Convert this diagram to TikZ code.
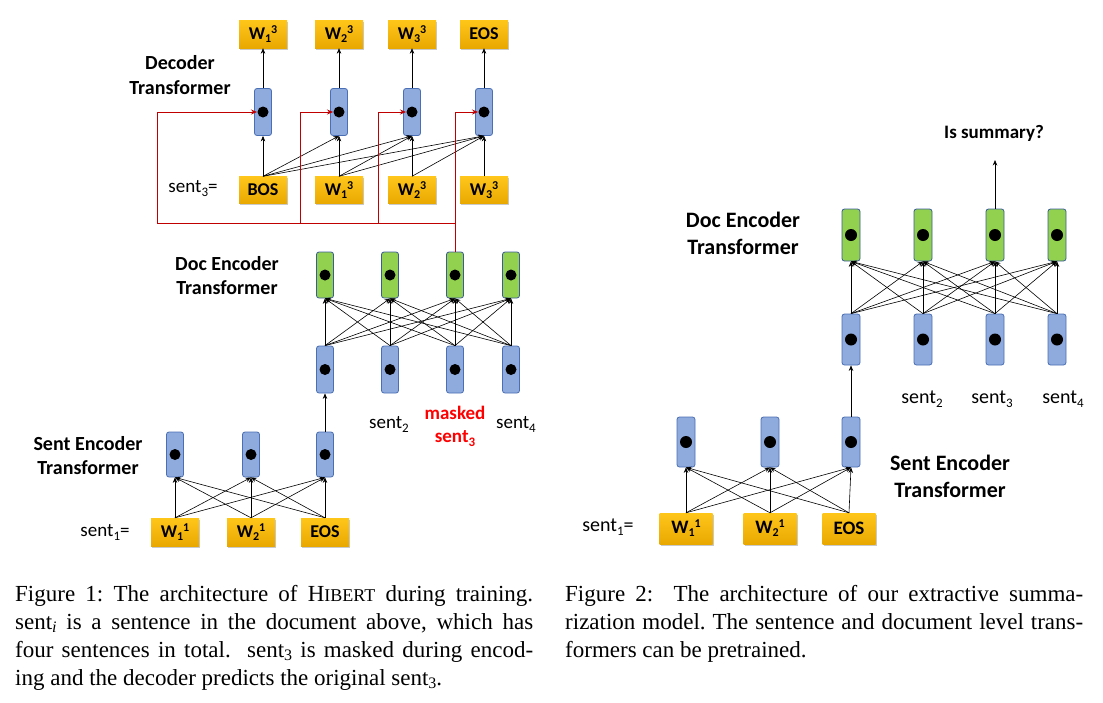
\documentclass[tikz,border=0pt]{standalone}
\usepackage{fontspec}
\setmainfont{Carlito}
\newfontfamily\capfont{Liberation Serif}
\usetikzlibrary{arrows.meta,shadows}
\definecolor{yelT}{HTML}{FFC61A}
\definecolor{yelB}{HTML}{E9A800}
\definecolor{cellF}{HTML}{8FAADC}
\definecolor{cellB}{HTML}{4A6FB5}
\definecolor{gF}{HTML}{92D050}
\definecolor{gB}{HTML}{3B5C9A}
\definecolor{rl}{HTML}{C00000}
\definecolor{rt}{HTML}{FF0000}
\newcommand\dn[2]{\raisebox{-3pt}{\fontsize{#1}{#1}\selectfont #2}}
\newcommand\up[2]{\raisebox{6pt}{\fontsize{#1}{#1}\selectfont #2}}
\newcommand\ws[2]{W\dn{12}{#1}\up{12}{#2}}
\newcommand\sn[1]{sent\raisebox{-4pt}{\fontsize{13}{13}\selectfont #1}}
\begin{document}
\begin{tikzpicture}[x=1pt,y=-1pt,
  ybox/.style={draw=none, top color=yelT, bottom color=yelB, minimum width=48pt,
    minimum height=28pt, inner sep=0pt, font=\fontsize{18}{18}\selectfont\bfseries,
    drop shadow={shadow xshift=1.2pt, shadow yshift=-1.5pt, opacity=0.35, fill=black!60}},
  cell/.style={draw=cellB, fill=cellF, rounded corners=2.5pt, minimum width=17pt,
    minimum height=47pt, inner sep=0pt, line width=0.8pt,
    path picture={\fill[black] (path picture bounding box.center) circle (5.5pt);}},
  gcell/.style={cell, draw=gB, fill=gF},
  bigcell/.style={minimum width=18pt,
    path picture={\fill[black] (path picture bounding box.center) circle (6pt);}},
  conn/.style={-{Stealth[length=5.5pt,width=4.5pt]}, line width=0.6pt},
  rline/.style={draw=rl, line width=0.9pt},
  rconn/.style={rline, -{Stealth[length=6pt,width=5pt]}},
  lab/.style={font=\fontsize{20}{24.5}\selectfont\bfseries, align=center, inner sep=0pt},
  labR/.style={font=\fontsize{22}{27}\selectfont\bfseries, align=center, inner sep=0pt},
  txt/.style={font=\fontsize{19}{19}\selectfont, inner sep=0pt},
  txtR/.style={font=\fontsize{20}{20}\selectfont, inner sep=0pt},
  captxt/.style={anchor=north west, inner sep=0pt, text width=518pt, align=justify,
    font=\capfont\fontsize{23}{28}\selectfont\frenchspacing}
]
\fill[white] (0,0) rectangle (1103,702);
\useasboundingbox (0,0) rectangle (1103,702);

% ================= Figure 1 : decoder =================
\node[ybox] (o1) at (263,34) {\ws{1}{3}};
\node[ybox] (o2) at (339,34) {\ws{2}{3}};
\node[ybox] (o3) at (412,34) {\ws{3}{3}};
\node[ybox] (o4) at (484,34) {EOS};
\foreach \i/\x in {1/263,2/339,3/412,4/484}{
  \node[cell] (d\i) at (\x,112) {};
}
\node[ybox,minimum height=27pt] (i1) at (263,190) {BOS};
\node[ybox,minimum height=27pt] (i2) at (339,190) {\ws{1}{3}};
\node[ybox,minimum height=27pt] (i3) at (412,190) {\ws{2}{3}};
\node[ybox,minimum height=27pt] (i4) at (484,190) {\ws{3}{3}};
\node[txt] (s3eq) at (193,189) {\sn{3}=};
\node[lab] (declab) at (180,75) {Decoder\\Transformer};
\foreach \i in {1,...,4}{ \draw[conn] (d\i.north) -- (o\i.south); }
\foreach \a/\b in {1/1,1/2,1/3,1/4,2/2,2/3,2/4,3/3,3/4,4/4}{
  \draw[conn] (i\a.north) -- (d\b.south);
}

% ================= Figure 1 : doc encoder =================
\foreach \i/\x in {1/325,2/390,3/455,4/511}{
  \node[gcell,minimum height=46pt] (g\i) at (\x,275) {};
  \node[cell] (b\i) at (\x,369.5) {};
}
\foreach \a in {1,...,4}{ \foreach \b in {1,...,4}{ \draw[conn] (b\a.north) -- (g\b.south); } }
\node[lab] (doclab) at (227,275.5) {Doc Encoder\\Transformer};
\node[txt] (l2) at (389,424) {\sn{2}};
\node[font=\fontsize{19}{23}\selectfont\bfseries, text=rt, align=center, inner sep=0pt] (lm) at (455,426) {masked\\sent\raisebox{-4pt}{\fontsize{13}{13}\selectfont 3}};
\node[txt] (l4) at (516,424) {\sn{4}};

% red connectors
\coordinate (rj) at (455,223.5);
\coordinate (ra) at (157,223.5);
\coordinate (rb) at (300,223.5);
\coordinate (rc) at (378,223.5);
\coordinate (ra2) at (157,112);
\coordinate (rb2) at (300,112);
\coordinate (rc2) at (378,112);
\coordinate (rd2) at (455,112);
\draw[rline] (g3.north) -- (rj) -- (ra) -- (ra2);
\draw[rline] (rb) -- (rb2);
\draw[rline] (rc) -- (rc2);
\draw[rline] (rj) -- (rd2);
\draw[rconn] (ra2) -- ([xshift=-6pt]d1.center);
\draw[rconn] (rb2) -- ([xshift=-6pt]d2.center);
\draw[rconn] (rc2) -- ([xshift=-6pt]d3.center);
\draw[rconn] (rd2) -- ([xshift=-6pt]d4.center);

% ================= Figure 1 : sent encoder =================
\foreach \i/\x in {1/175,2/251,3/325}{
  \node[cell,minimum height=45pt] (s\i) at (\x,454.5) {};
}
\node[ybox] (w1) at (175,532) {\ws{1}{1}};
\node[ybox] (w2) at (251,532) {\ws{2}{1}};
\node[ybox] (w3) at (325,532) {EOS};
\foreach \a in {1,...,3}{ \foreach \b in {1,...,3}{ \draw[conn] (w\a.north) -- (s\b.south); } }
\draw[conn] (s3.north) -- (b1.south);
\node[txt] (s1eq) at (105,532) {\sn{1}=};
\node[lab] (sentlab) at (88,455.5) {Sent Encoder\\Transformer};

% ================= Figure 2 =================
\foreach \i/\x in {1/851,2/923,3/995,4/1057}{
  \node[gcell,bigcell,minimum height=52pt] (G\i) at (\x,235) {};
  \node[cell,bigcell,minimum height=51pt] (B\i) at (\x,339.5) {};
}
\foreach \a in {1,...,4}{ \foreach \b in {1,...,4}{ \draw[conn] (B\a.north) -- (G\b.south); } }
\coordinate (sumtip) at (995,160);
\draw[conn] (G3.north) -- (sumtip);
\node[font=\fontsize{19}{19}\selectfont\bfseries, inner sep=0pt] (isum) at (994,133) {Is summary?};
\node[labR] (doclabR) at (743,233.5) {Doc Encoder\\Transformer};
\node[txtR] (L2) at (922,399) {\sn{2}};
\node[txtR] (L3) at (992,399) {\sn{3}};
\node[txtR] (L4) at (1063,399) {\sn{4}};

\foreach \i/\x in {1/686,2/770,3/851}{
  \node[cell,bigcell,minimum height=50pt] (S\i) at (\x,442) {};
}
\node[ybox,minimum width=53pt,minimum height=31pt,font=\fontsize{19}{19}\selectfont\bfseries] (W1) at (686,528.5) {\ws{1}{1}};
\node[ybox,minimum width=53pt,minimum height=31pt,font=\fontsize{19}{19}\selectfont\bfseries] (W2) at (770,528.5) {\ws{2}{1}};
\node[ybox,minimum width=53pt,minimum height=31pt,font=\fontsize{19}{19}\selectfont\bfseries] (W3) at (849,528.5) {EOS};
\foreach \a in {1,...,3}{ \foreach \b in {1,...,3}{ \draw[conn] (W\a.north) -- (S\b.south); } }
\draw[conn] (S3.north) -- (B1.south);
\node[txtR] (S1eq) at (608,527) {\sn{1}=};
\node[labR] (sentlabR) at (950,476.5) {Sent Encoder\\Transformer};

% ================= Captions =================
\node[captxt] (cap1) at (15,585)
  {Figure 1: The architecture of H{\fontsize{18}{28}\selectfont IBERT} during training.\linebreak
   sent\raisebox{-3.5pt}{\fontsize{16}{16}\selectfont\itshape i} is a sentence in the document above, which has\linebreak
   four sentences in total.\ \ sent\raisebox{-3.5pt}{\fontsize{16}{16}\selectfont 3} is masked during encod-\linebreak
   ing and the decoder predicts the original sent\raisebox{-3.5pt}{\fontsize{16}{16}\selectfont 3}.};
\node[captxt] (cap2) at (565,585)
  {Figure 2:\ \ The architecture of our extractive summa-\linebreak
   rization model. The sentence and document level trans-\linebreak
   formers can be pretrained.};
\end{tikzpicture}
\end{document}
